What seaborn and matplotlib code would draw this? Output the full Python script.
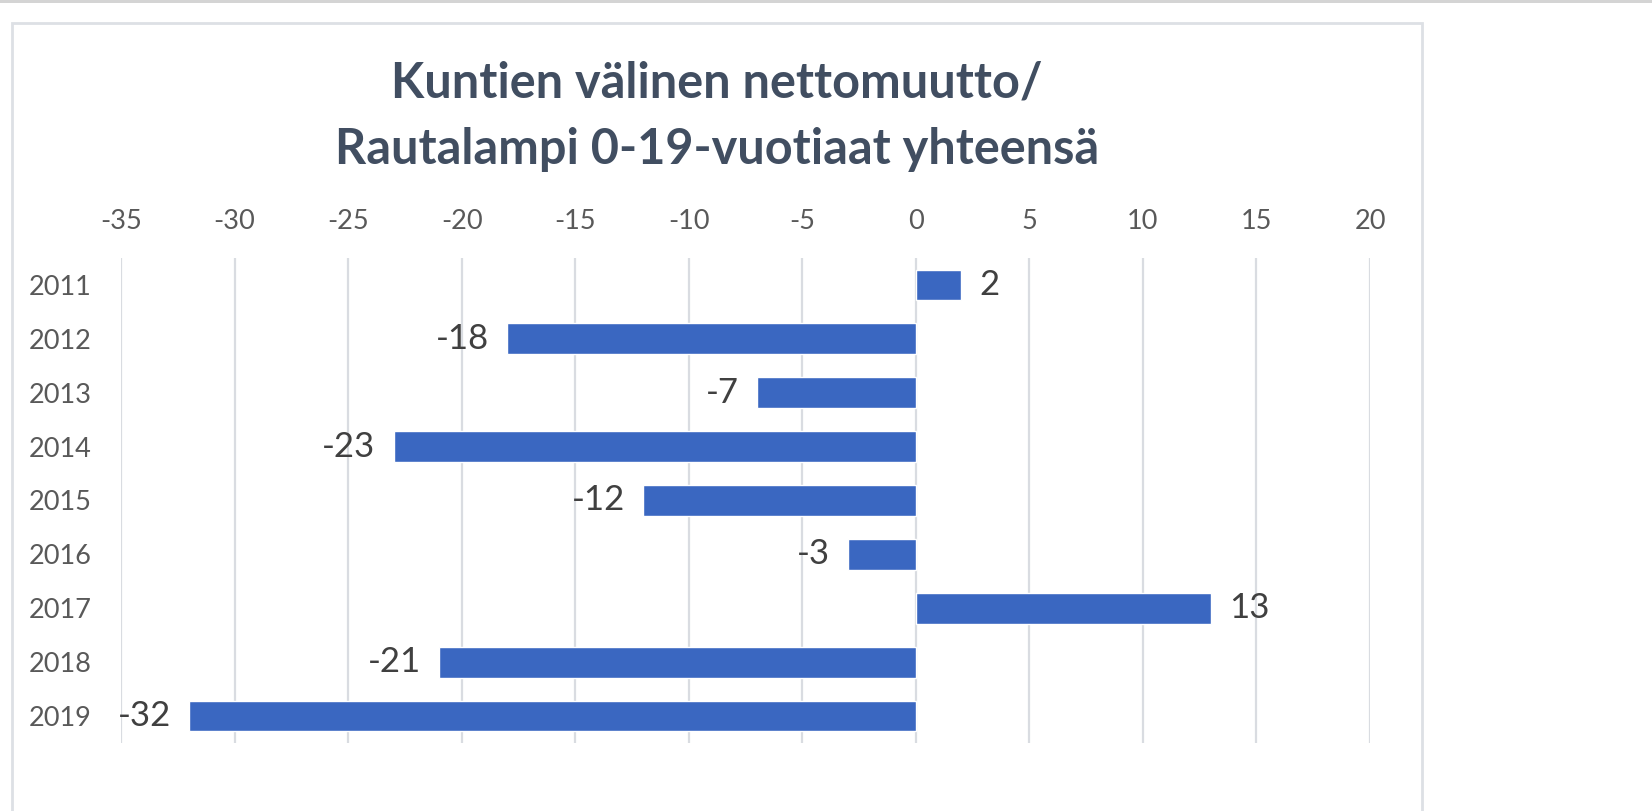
import matplotlib
matplotlib.use("Agg")
import matplotlib.pyplot as plt
from matplotlib import ticker, patches
import seaborn as sns

# data
years  = ["2011", "2012", "2013", "2014", "2015", "2016", "2017", "2018", "2019"]
values = [2, -18, -7, -23, -12, -3, 13, -21, -32]
title_lines = ["Kuntien välinen nettomuutto/", "Rautalampi 0-19-vuotiaat yhteensä"]

sns.set_style("white")
plt.rcParams['font.family'] = ['Lato', 'DejaVu Sans']
plt.rcParams['axes.unicode_minus'] = False

fig = plt.figure(figsize=(16.52, 8.11), dpi=100)

# frame of the chart area and the thin grey strip on top
fig.patches.append(patches.Rectangle((12/1652, -0.01), 1410/1652, 1.01 - 23/811,
                                     transform=fig.transFigure, fill=False,
                                     edgecolor="#dde0e5", lw=2))
fig.patches.append(patches.Rectangle((0, 1 - 3/811), 1, 3/811,
                                     transform=fig.transFigure, color="#d4d4d4", lw=0))

ax = fig.add_axes([121/1652, 68/811, 1249/1652, 485/811])

sns.barplot(x=values, y=years, orient="h", color="#3a67c1", width=0.57,
            saturation=1, ax=ax)

# axes range and ticks
ax.set_xlim(-35, 20)
ax.set_ylim(8.5, -0.5)
ax.xaxis.set_major_locator(ticker.MultipleLocator(base=5))
ax.xaxis.tick_top()
ax.grid(axis="x", color="#d9dce1", lw=1.6)
ax.set_axisbelow(True)
for s in ax.spines.values():
    s.set_visible(False)
ax.tick_params(axis="x", length=0, pad=17, labelsize=19.5, labelcolor="#595959")
ax.tick_params(axis="y", length=0, pad=21, labelsize=19.5, labelcolor="#595959")
ax.set_xlabel("")
ax.set_ylabel("")

# value labels
ax.bar_label(ax.containers[0], fmt="%d", padding=13, fontsize=25, color="#404040")

# title centered on the frame
fig.text(717/1652, 1 - 83/811, title_lines[0], ha="center", va="center",
         fontsize=35, fontweight="bold", color="#414e61")
fig.text(717/1652, 1 - 149/811, title_lines[1], ha="center", va="center",
         fontsize=35, fontweight="bold", color="#414e61")

plt.savefig("out.png", dpi=100)
